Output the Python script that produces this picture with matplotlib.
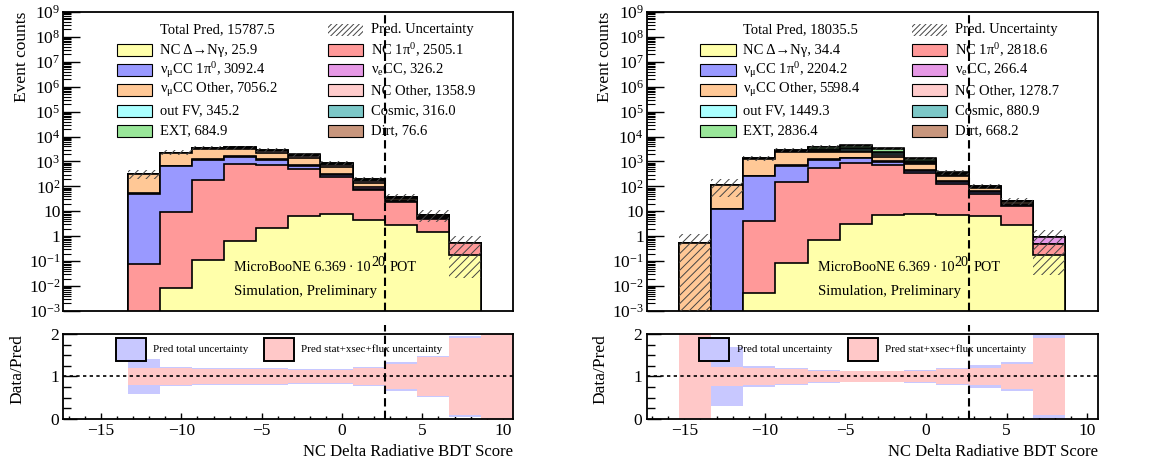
import numpy as np
import matplotlib
matplotlib.use('Agg')
import matplotlib.pyplot as plt
from matplotlib.patches import Rectangle
from matplotlib.ticker import LogLocator, NullFormatter, MultipleLocator, FixedLocator

plt.rcParams['font.family'] = ['Liberation Serif', 'DejaVu Serif']
plt.rcParams['mathtext.fontset'] = 'custom'
plt.rcParams['mathtext.rm'] = 'Liberation Serif'
plt.rcParams['mathtext.it'] = 'Liberation Serif:italic'
plt.rcParams['hatch.linewidth'] = 0.7

# binning of the BDT score: 14 bins of width 2
bin_lo = -17.35
bin_w = 2.0
n_bins = 14
cut = 2.65
nan = np.nan

labels = ['NC Δ→Nγ', 'NC 1π$^{\\mathregular{0}}$', 'ν$_{\\mathregular{μ}}$CC 1π$^{\\mathregular{0}}$',
          'ν$_{\\mathregular{e}}$CC', 'ν$_{\\mathregular{μ}}$CC Other', 'NC Other', 'out FV',
          'Cosmic', 'EXT', 'Dirt']
colors = ['#ffffaa', '#ff9999', '#9999ff', '#e699e6', '#ffc896', '#ffcccc',
          '#aaffff', '#7cc8c8', '#99e699', '#c8967d']

# left plot
left_nc_delta = [0, 0, 0, 0.0083, 0.11, 0.67, 2.1, 6.3, 7.8, 4.6, 2.9, 1.45, 0.17, 0]
left_nc_1pi0 = [0, 0, 0.074, 9.4, 182, 780, 725, 490, 230, 64, 20.7, 3.7, 0.35, 0]
left_numu_1pi0 = [0, 0, 51, 643.7, 1000, 800, 400, 140, 45, 11, 1.5, 0.2, 0, 0]
left_nue = [0, 0, 1, 10, 45, 60, 75, 75, 45, 12.7, 2, 0.5, 0, 0]
left_numu_other = [0, 0, 250, 1480, 2000, 1400, 1011.7, 620, 250, 40, 4, 0.5, 0, 0]
left_nc_other = [0, 0, 5, 50, 170, 330, 330, 270, 165.4, 35, 3, 0.5, 0, 0]
left_out_fv = [0, 0, 4, 20, 50, 80, 70, 70, 40, 10, 1, 0.2, 0, 0]
left_cosmic = [0, 0, 2, 15, 45, 70, 75, 65, 35, 8, 0.8, 0.2, 0, 0]
left_ext = [0, 0, 6, 45, 95, 140, 152.7, 160, 70, 15, 1, 0.2, 0, 0]
left_dirt = [0, 0, 2.5, 9, 14, 16, 14, 12, 7, 2, 0.1, 0, 0, 0]
left_totals = [25.9, 2505.1, 3092.4, 326.2, 7056.2, 1358.9, 345.2, 316.0, 684.9, 76.6]
left_total_pred = 15787.5
left_err_total = [nan, nan, 0.40, 0.22, 0.20, 0.19, 0.19, 0.18, 0.18, 0.22, 0.33, 0.49, 0.96, nan]
left_err_stat = [nan, nan, 0.20, 0.19, 0.17, 0.17, 0.17, 0.16, 0.16, 0.19, 0.30, 0.47, 0.90, 5.0]

# right plot
right_nc_delta = [0, 0, 0, 0.0054, 0.085, 0.69, 3.1, 6.8, 7.8, 6.8, 6.3, 2.9, 0.18, 0]
right_nc_1pi0 = [0, 0, 0, 4.2, 145, 540, 889, 733, 332, 117, 45, 13, 0.32, 0]
right_numu_1pi0 = [0, 0, 12.8, 246, 545, 630, 450, 200, 80, 30, 8.4, 2, 0, 0]
right_nue = [0, 0, 0, 3, 15, 45, 70, 70, 41, 15, 5, 2, 0.4, 0]
right_numu_other = [0, 0.54, 104, 980, 1610, 1080, 900, 500, 300, 100, 20, 3.9, 0, 0]
right_nc_other = [0, 0, 0, 25, 110, 290, 400, 321, 105, 22, 5, 0.7, 0, 0]
right_out_fv = [0, 0, 0, 25, 120, 320, 460, 380, 120, 20, 3.5, 0.8, 0, 0]
right_cosmic = [0, 0, 0, 15, 75, 195, 280, 230, 70, 13, 2.5, 0.4, 0, 0]
right_ext = [0, 0, 0, 50, 235, 630, 900, 740, 240, 35, 6, 0.4, 0, 0]
right_dirt = [0, 0, 0, 12, 55, 150, 210, 175, 55, 9, 2, 0.2, 0, 0]
right_totals = [34.4, 2818.6, 2204.2, 266.4, 5598.4, 1278.7, 1449.3, 880.9, 2836.4, 668.2]
right_total_pred = 18035.5
right_err_total = [nan, 1.2, 0.69, 0.24, 0.20, 0.16, 0.14, 0.13, 0.15, 0.21, 0.26, 0.33, 0.97, nan]
right_err_stat = [nan, 1.2, 0.22, 0.20, 0.165, 0.13, 0.12, 0.12, 0.13, 0.17, 0.21, 0.29, 0.90, nan]

ytick_vals = [1e-3, 1e-2, 1e-1, 1, 10, 1e2, 1e3, 1e4, 1e5, 1e6, 1e7, 1e8, 1e9]
ytick_labels = ['$\\mathregular{10^{-3}}$', '$\\mathregular{10^{-2}}$', '$\\mathregular{10^{-1}}$',
                '1', '10', '$\\mathregular{10^{2}}$', '$\\mathregular{10^{3}}$', '$\\mathregular{10^{4}}$',
                '$\\mathregular{10^{5}}$', '$\\mathregular{10^{6}}$', '$\\mathregular{10^{7}}$',
                '$\\mathregular{10^{8}}$', '$\\mathregular{10^{9}}$']

edges = bin_lo + bin_w * np.arange(n_bins + 1)
centers = 0.5 * (edges[1:] + edges[:-1])


def draw_panel(ax, rax, stack, totals, total_pred, err_tot, err_stat):
    stack = np.array(stack, dtype=float)
    cum = np.cumsum(stack, axis=0)
    floor = 1e-6
    for i in range(len(stack) - 1, -1, -1):
        top = np.where(cum[i] > 0, cum[i], floor)
        ax.stairs(top, edges, baseline=floor, fill=True, facecolor=colors[i], edgecolor='none', zorder=2)
        ax.stairs(top, edges, baseline=floor, fill=False, color='black', lw=1.2, zorder=2)

    total = cum[-1]
    err = total * np.array(err_tot)
    ok = total > 0
    lo = np.clip(total - err, floor, None)
    ax.bar(centers[ok], (total + err - lo)[ok], bottom=lo[ok], width=bin_w, fill=False,
           hatch='////', edgecolor='#444444', linewidth=0, zorder=4)

    ax.set_yscale('log')
    ax.set_xlim(edges[0], edges[-1])
    ax.set_ylim(1e-3, 1e9)
    ax.set_yticks(ytick_vals, ytick_labels)
    ax.yaxis.set_minor_locator(LogLocator(base=10, subs=np.arange(2, 10), numticks=60))
    ax.yaxis.set_minor_formatter(NullFormatter())
    ax.tick_params(axis='y', which='major', direction='in', length=12, width=1, labelsize=12.5, pad=2)
    ax.tick_params(axis='y', which='minor', direction='in', length=6, width=0.8)
    ax.tick_params(axis='x', which='both', bottom=False, labelbottom=False)
    ax.axvline(cut, color='black', lw=1.5, ls=(0, (4, 2)), zorder=6)
    ax.set_ylabel('Event counts', fontsize=12.5, loc='top')
    ax.yaxis.set_label_coords(-0.074, 1.0)

    # legend
    entries = [('Total Pred, %.1f' % total_pred, None), ('Pred. Uncertainty', 'hatch')]
    for lab, val, col in zip(labels, totals, colors):
        entries.append(('%s, %.1f' % (lab, val), col))
    for k, (txt, sw) in enumerate(entries):
        row, c = divmod(k, 2)
        y = 0.94 - 0.0675 * row
        x0 = 0.119 if c == 0 else 0.588
        if sw == 'hatch':
            ax.add_patch(Rectangle((x0, y - 0.02), 0.079, 0.04, transform=ax.transAxes, fill=False,
                                   hatch='//////', edgecolor='#444444', lw=0, zorder=5))
        elif sw is not None:
            ax.add_patch(Rectangle((x0, y - 0.02), 0.079, 0.04, transform=ax.transAxes,
                                   facecolor=sw, edgecolor='black', lw=0.8, zorder=5))
        ax.text(x0 + 0.096, y, txt, transform=ax.transAxes, va='center', fontsize=10.5, zorder=5)

    t1 = ax.text(0.38, 0.147, 'MicroBooNE 6.369\u2009·\u200910', transform=ax.transAxes,
                 va='center', fontsize=10.2, zorder=5)
    t2 = ax.annotate('20', xy=(1, 0.5), xycoords=t1, xytext=(0.3, 3), textcoords='offset points',
                     va='center', fontsize=10.2, zorder=5)
    ax.annotate('POT', xy=(1, 0.5), xycoords=t2, xytext=(3.5, -3), textcoords='offset points',
                va='center', fontsize=10.2, zorder=5)
    ax.text(0.38, 0.064, 'Simulation, Preliminary', transform=ax.transAxes,
            va='center', fontsize=10.7, zorder=5)

    # ratio panel
    for errs, col in ((err_tot, '#c8c8ff'), (err_stat, '#ffc8c8')):
        e = np.array(errs)
        m = ~np.isnan(e)
        rax.bar(centers[m], 2 * e[m], bottom=1 - e[m], width=bin_w, color=col, linewidth=0, zorder=2)
    rax.axhline(1, color='black', lw=1.2, ls=(0, (2, 2)), zorder=3)
    rax.vlines(cut, 0, 2.21, color='black', lw=1.5, linestyles=(0, (4, 2)), clip_on=False, zorder=6)
    rax.set_xlim(edges[0], edges[-1])
    rax.set_ylim(0, 2)
    rax.set_yticks([0, 1, 2])
    rax.yaxis.set_minor_locator(FixedLocator([0.25, 0.5, 0.75, 1.25, 1.5, 1.75]))
    rax.xaxis.set_major_locator(MultipleLocator(5))
    rax.xaxis.set_minor_locator(MultipleLocator(1))
    rax.tick_params(axis='both', which='both', direction='in', labelsize=12.5)
    rax.tick_params(axis='y', which='major', length=10, width=1, pad=3)
    rax.tick_params(axis='y', which='minor', length=6, width=1)
    rax.tick_params(axis='x', which='major', length=4.5, width=1, pad=3)
    rax.tick_params(axis='x', which='minor', length=2.2, width=1)
    rax.set_ylabel('Data/Pred', fontsize=12.5, loc='top')
    rax.yaxis.set_label_coords(-0.085, 1.0)
    rax.set_xlabel('NC Delta Radiative BDT Score', fontsize=12, loc='right')
    rax.xaxis.set_label_coords(1.0, -0.29)

    rax.add_patch(Rectangle((0.117, 0.68), 0.067, 0.27, transform=rax.transAxes,
                            facecolor='#c8c8ff', edgecolor='black', lw=1.4, zorder=5))
    rax.text(0.2, 0.82, 'Pred total uncertainty', transform=rax.transAxes, va='center',
             fontsize=7.9, zorder=5)
    rax.add_patch(Rectangle((0.446, 0.68), 0.067, 0.27, transform=rax.transAxes,
                            facecolor='#ffc8c8', edgecolor='black', lw=1.4, zorder=5))
    rax.text(0.528, 0.82, 'Pred stat+xsec+flux uncertainty', transform=rax.transAxes, va='center',
             fontsize=7.9, zorder=5)

    for a in (ax, rax):
        for s in a.spines.values():
            s.set_linewidth(1.3)


fig = plt.figure(figsize=(11.52, 4.61), dpi=100)
ax_l = fig.add_axes([0.0549, 0.3254, 0.3906, 0.6486])
rax_l = fig.add_axes([0.0549, 0.0911, 0.3906, 0.1844])
ax_r = fig.add_axes([0.5612, 0.3254, 0.3915, 0.6486])
rax_r = fig.add_axes([0.5612, 0.0911, 0.3915, 0.1844])

draw_panel(ax_l, rax_l,
           [left_nc_delta, left_nc_1pi0, left_numu_1pi0, left_nue, left_numu_other,
            left_nc_other, left_out_fv, left_cosmic, left_ext, left_dirt],
           left_totals, left_total_pred, left_err_total, left_err_stat)
draw_panel(ax_r, rax_r,
           [right_nc_delta, right_nc_1pi0, right_numu_1pi0, right_nue, right_numu_other,
            right_nc_other, right_out_fv, right_cosmic, right_ext, right_dirt],
           right_totals, right_total_pred, right_err_total, right_err_stat)

fig.savefig('out.png', dpi=100)
